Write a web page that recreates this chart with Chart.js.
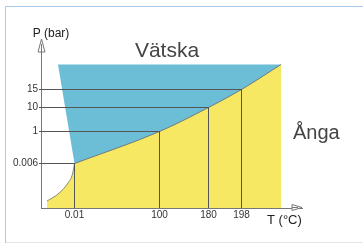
<!DOCTYPE html>
<html>
<head>
<meta charset="utf-8">
<script src="https://cdn.jsdelivr.net/npm/chart.js@4/dist/chart.umd.min.js"></script>
<style>
  html, body { margin: 0; padding: 0; background: #fff; }
  #wrap { width: 363px; height: 244px; position: relative; }
</style>
</head>
<body>
<div id="wrap"><canvas id="c" width="363" height="244"></canvas></div>
<script>
// ---- Data (schematic phase diagram of water, diagram units) ----
const tempLabels     = ['0.01', '100', '180', '198'];      // T (°C) tick labels
const tempPos        = [33.5, 118.5, 167.5, 200.5];        // schematic x positions
const pressureLabels = ['0.006', '1', '10', '15'];          // P (bar) tick labels
const pressurePos    = [44.5, 76.5, 100.5, 118.5];         // schematic y positions

// vapour-pressure curve (liquid / vapour boundary), triple point first
const vaporX = [33.5, 118.5, 167.5, 200.5, 240];
const vaporY = [44.5, 76.5, 100.5, 118.5, 143.5];
// sublimation curve (solid / vapour boundary), ends at triple point
const sublX  = [6, 17, 27, 31.5, 33.5];
const sublY  = [7, 14, 25, 34, 44.5];
// melting line top end and top of the drawn region
const meltTopX = 17;
const topY = 143.5;

const xMax = 261, yMax = 169;

const pts = (xs, ys) => xs.map((x, i) => ({ x, y: ys[i] }));
const tripleX = vaporX[0], tripleY = vaporY[0];
const rightX = vaporX[vaporX.length - 1];

const GRID = '#555';
const BLUE = 'rgb(107,190,213)';
const YELLOW = 'rgb(246,232,98)';

const datasets = [];
// reference lines (drawn on top)
pressurePos.forEach((p, i) => {
  datasets.push({
    data: [{ x: 0, y: p }, { x: tempPos[i], y: p }, { x: tempPos[i], y: 0 }],
    borderColor: GRID, borderWidth: 1, pointRadius: 0, showLine: true,
    fill: false, tension: 0, order: 1
  });
});
// vapour curve, yellow underneath
datasets.push({
  data: pts(vaporX, vaporY),
  borderColor: '#6f7a80', borderWidth: 1, pointRadius: 0, showLine: true,
  backgroundColor: YELLOW, fill: 'origin', cubicInterpolationMode: 'monotone', order: 3
});
// sublimation curve, yellow underneath
datasets.push({
  data: pts(sublX, sublY),
  borderColor: '#8a8a70', borderWidth: 1, pointRadius: 0, showLine: true,
  backgroundColor: YELLOW, fill: 'origin', cubicInterpolationMode: 'monotone', order: 3
});
// liquid region (blue), partially covered by the yellow vapour area
datasets.push({
  data: [
    { x: meltTopX, y: topY }, { x: rightX, y: topY }, { x: rightX, y: 0 },
    { x: tripleX, y: 0 }, { x: tripleX, y: tripleY }, { x: meltTopX, y: topY }
  ],
  borderWidth: 0, borderColor: 'rgba(0,0,0,0)', pointRadius: 0, showLine: true,
  backgroundColor: BLUE, fill: 'shape', tension: 0, order: 5
});

const FONT = '"Liberation Sans", Arial, sans-serif';

const deco = {
  id: 'deco',
  beforeDraw(chart) {
    const ctx = chart.ctx;
    ctx.save();
    ctx.fillStyle = '#fff';
    ctx.fillRect(0, 0, chart.width, chart.height);
    // frame
    ctx.strokeStyle = '#a8c8ee';
    ctx.lineWidth = 1;
    ctx.beginPath();
    ctx.moveTo(5.5, 243); ctx.lineTo(5.5, 6.5); ctx.lineTo(363, 6.5);
    ctx.stroke();
    ctx.strokeStyle = '#e4e4e4';
    ctx.beginPath();
    ctx.moveTo(6, 242.5); ctx.lineTo(363, 242.5);
    ctx.stroke();
    ctx.restore();
  },
  afterDraw(chart) {
    const ctx = chart.ctx;
    const a = chart.chartArea;
    ctx.save();
    // arrow heads (open triangles)
    ctx.strokeStyle = '#777';
    ctx.fillStyle = '#fff';
    ctx.lineWidth = 1;
    const ax = Math.round(a.left) + 0.5;
    ctx.beginPath();
    ctx.moveTo(ax, a.top);
    ctx.lineTo(ax - 3.5, a.top + 13);
    ctx.lineTo(ax + 3.5, a.top + 13);
    ctx.closePath();
    ctx.fill(); ctx.stroke();
    ctx.beginPath(); ctx.moveTo(ax, a.top + 13); ctx.lineTo(ax, a.top + 5); ctx.stroke();
    const ay = Math.round(a.bottom) - 0.5;
    ctx.beginPath();
    ctx.moveTo(a.right, ay);
    ctx.lineTo(a.right - 10, ay - 3);
    ctx.lineTo(a.right - 10, ay + 3);
    ctx.closePath();
    ctx.fill(); ctx.stroke();
    ctx.beginPath(); ctx.moveTo(a.right - 10, ay); ctx.lineTo(a.right - 4, ay); ctx.stroke();

    // texts
    ctx.fillStyle = '#222';
    ctx.font = '12px ' + FONT;
    ctx.textAlign = 'center';
    ctx.textBaseline = 'middle';
    ctx.fillText('P (bar)', 51, 34);
    ctx.font = '13px ' + FONT;
    ctx.textAlign = 'left';
    ctx.fillText('T (°C)', 267, 220);
    ctx.fillStyle = '#444';
    ctx.font = '21px ' + FONT;
    ctx.textAlign = 'center';
    ctx.textBaseline = 'alphabetic';
    ctx.fillText('Vätska', 167, 57);
    ctx.font = '20px ' + FONT;
    ctx.textAlign = 'left';
    ctx.fillText('Ånga', 293, 139);
    ctx.restore();
  }
};

new Chart(document.getElementById('c'), {
  type: 'scatter',
  data: { datasets },
  options: {
    responsive: false,
    animation: false,
    events: [],
    layout: { padding: { top: 39, right: 61, left: 0, bottom: 0 } },
    plugins: { legend: { display: false }, tooltip: { enabled: false } },
    scales: {
      x: {
        type: 'linear', position: 'bottom', min: 0, max: xMax,
        afterFit(s) { s.height = 36; },
        afterBuildTicks(s) { s.ticks = tempPos.map(v => ({ value: v })); },
        grid: { display: true, drawOnChartArea: false, drawTicks: false },
        border: { display: true, color: '#777', width: 1 },
        ticks: {
          autoSkip: false, maxRotation: 0, padding: 1, color: '#333',
          font: { size: 10, family: FONT },
          callback: (v, i) => tempLabels[i]
        }
      },
      y: {
        type: 'linear', position: 'left', min: 0, max: yMax,
        afterFit(s) { s.width = 41; },
        afterBuildTicks(s) { s.ticks = pressurePos.map(v => ({ value: v })); },
        grid: { display: true, drawOnChartArea: false, drawTicks: true, tickLength: 2, color: GRID },
        border: { display: true, color: '#777', width: 1 },
        ticks: {
          autoSkip: false, padding: 1, color: '#333',
          font: { size: 10, family: FONT },
          callback: (v, i) => pressureLabels[i]
        }
      }
    }
  },
  plugins: [deco]
});
</script>
</body>
</html>
